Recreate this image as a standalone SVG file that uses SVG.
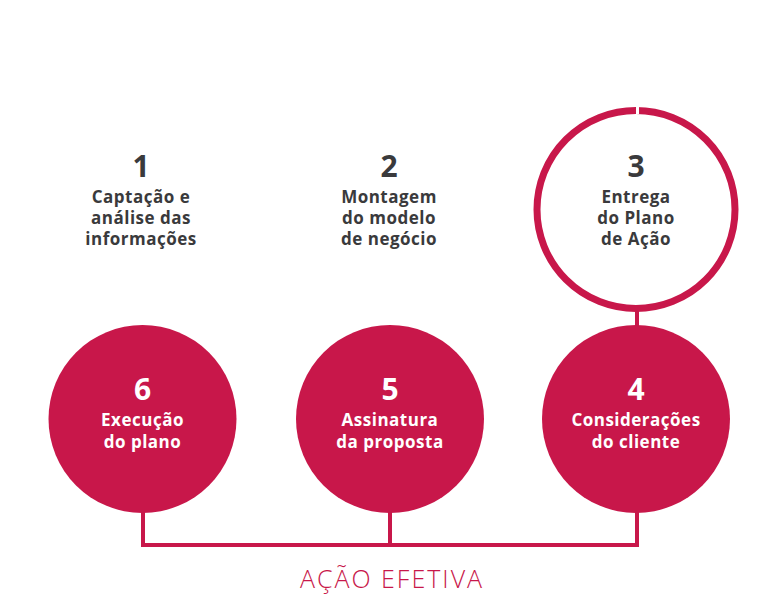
<svg xmlns="http://www.w3.org/2000/svg" width="776" height="614" viewBox="0 0 776 614">
<style>
.num{font-family:"Open Sans","Liberation Sans",sans-serif;font-weight:700;font-size:30px;text-anchor:middle}
.lbl{font-family:"Open Sans","Liberation Sans",sans-serif;font-weight:700;font-size:17px;letter-spacing:0.5px;text-anchor:middle}
.dark{fill:#3a3a3c}
.light{fill:#ffffff}
.red{fill:#c8174a}
.line{stroke:#c8174a;stroke-width:4;fill:none}
</style>
<rect width="776" height="614" fill="#ffffff"/>
<g id="connectors">
<path class="line" d="M143 510 V545 H637 V510"/>
<path class="line" d="M390 510 V545"/>
<path class="line" d="M637 310 V330"/>
</g>
<g id="node1">
<text class="num dark" x="141" y="177">1</text>
<text class="lbl dark" x="141" y="203">Captação e</text>
<text class="lbl dark" x="141" y="224">análise das</text>
<text class="lbl dark" x="141" y="245">informações</text>
</g>
<g id="node2">
<text class="num dark" x="389" y="177">2</text>
<text class="lbl dark" x="389" y="203">Montagem</text>
<text class="lbl dark" x="389" y="224">do modelo</text>
<text class="lbl dark" x="389" y="245">de negócio</text>
</g>
<g id="node3">
<circle cx="636" cy="209.5" r="99" fill="none" stroke="#c8174a" stroke-width="7"/>
<rect x="636" y="104" width="3" height="10" fill="#ffffff"/>
<text class="num dark" x="636" y="177">3</text>
<text class="lbl dark" x="636" y="203">Entrega</text>
<text class="lbl dark" x="636" y="224">do Plano</text>
<text class="lbl dark" x="636" y="245">de Ação</text>
</g>
<g id="node4">
<circle cx="636" cy="419" r="94" class="red"/>
<text class="num light" x="636" y="400">4</text>
<text class="lbl light" x="636" y="426">Considerações</text>
<text class="lbl light" x="636" y="448">do cliente</text>
</g>
<g id="node5">
<circle cx="390" cy="419" r="94" class="red"/>
<text class="num light" x="390" y="400">5</text>
<text class="lbl light" x="390" y="426">Assinatura</text>
<text class="lbl light" x="390" y="448">da proposta</text>
</g>
<g id="node6">
<circle cx="142.5" cy="419" r="94" class="red"/>
<text class="num light" x="142.5" y="400">6</text>
<text class="lbl light" x="142.5" y="426">Execução</text>
<text class="lbl light" x="142.5" y="448">do plano</text>
</g>
<text x="392" y="588" class="red" font-family="'Open Sans','Liberation Sans',sans-serif" font-weight="300" font-size="25" letter-spacing="2" text-anchor="middle">AÇÃO EFETIVA</text>
</svg>
